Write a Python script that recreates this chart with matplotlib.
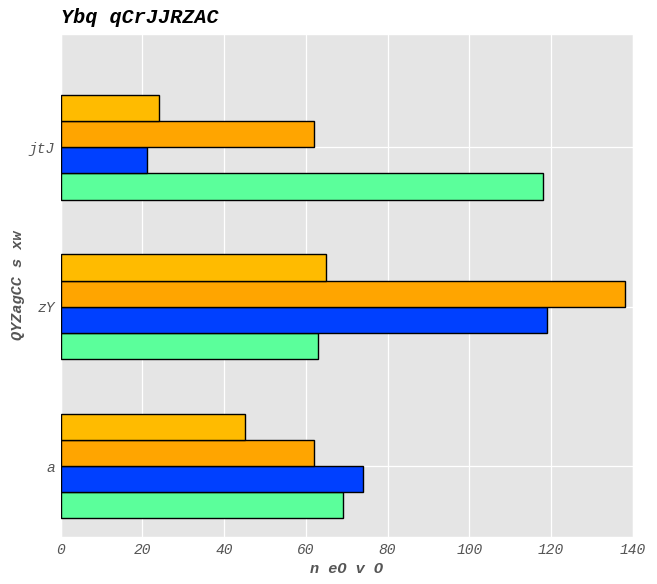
import numpy as np
import matplotlib
matplotlib.use("Agg")
import matplotlib.pyplot as plt

# data
categories = ["a", "zY", "jtJ"]
series_names = ["s1", "s2", "s3", "s4"]
s1_values = [69, 63, 118]
s2_values = [74, 119, 21]
s3_values = [62, 138, 62]
s4_values = [45, 65, 24]
colors = ["#5BFF9B", "#0040FF", "#FFA500", "#FFBB00"]

plt.style.use("ggplot")
plt.rcParams["font.family"] = ["Liberation Mono", "DejaVu Sans Mono"]

fig = plt.figure(figsize=(6.57, 5.84), dpi=100)
ax = fig.add_axes([0.0924, 0.080, 0.8706, 0.8618])

y = np.arange(len(categories))
h = 0.164
all_values = [s1_values, s2_values, s3_values, s4_values]
for i, vals in enumerate(all_values):
    ax.barh(y + (i - 1.5) * h, vals, height=h, color=colors[i],
            edgecolor="black", linewidth=1.0, label=series_names[i], zorder=3)

ax.set_xlim(0, 140)
ax.set_ylim(-0.447, 2.711)
ax.set_xticks(range(0, 141, 20))
ax.set_yticks(y)
ax.set_yticklabels(categories)
ax.set_facecolor("#E5E5E5")
ax.grid(True, color="white", linewidth=0.9, zorder=0)
ax.tick_params(length=0, labelsize=10.5, colors="#555555", pad=4)
for lab in ax.get_xticklabels() + ax.get_yticklabels():
    lab.set_fontstyle("italic")

ax.set_title("Ybq qCrJJRZAC", loc="left", fontsize=14.5, fontweight="bold",
             fontstyle="italic", color="black", pad=8)
ax.set_xlabel("n eO v O", fontsize=11, fontstyle="italic", fontweight="bold",
              color="#555555", labelpad=4)
ax.set_ylabel("QYZagCC s xw", fontsize=11, fontstyle="italic", fontweight="bold",
              color="#555555", labelpad=3)

fig.savefig("out.png", dpi=100)
